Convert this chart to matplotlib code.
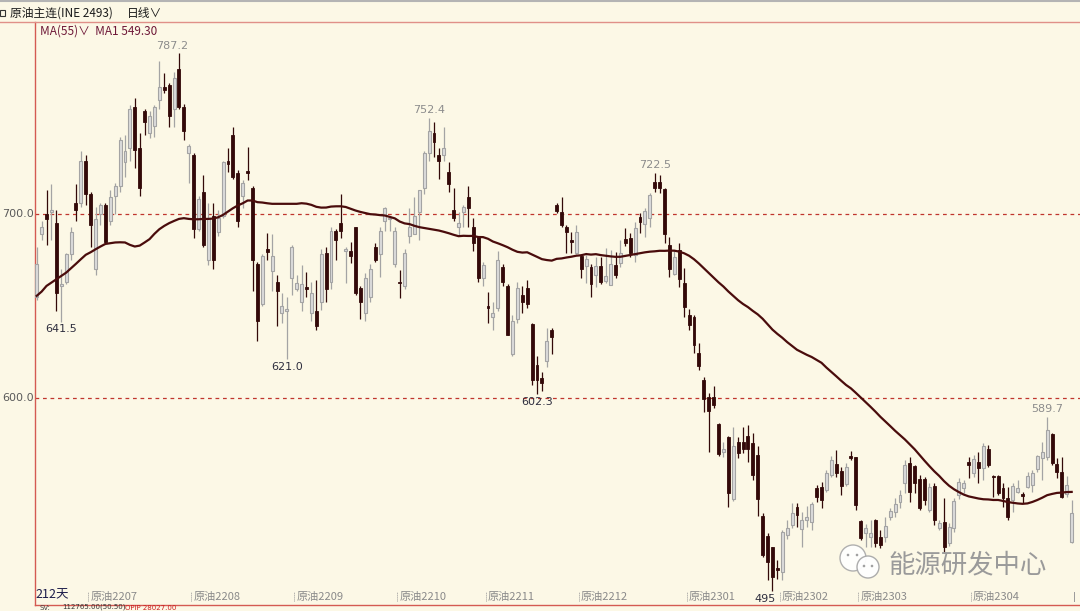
import matplotlib
matplotlib.use("Agg")
import matplotlib.pyplot as plt
from matplotlib.patches import Circle, Rectangle
import numpy as np
import pandas as pd

plt.rcParams["font.family"] = ["Noto Sans CJK SC", "DejaVu Sans"]

W, H = 1080, 611
BG = "#fcf8e6"
UP_FILL, UP_EDGE = "#dcdcdc", "#a4a4a4"
DN = "#330909"
MA_COLOR = "#4a0c0c"
RED = "#d45a52"

# 212 daily candles (INE crude oil continuous)
opens = [655, 689, 700, 701, 695, 661, 663, 678, 706, 706, 729, 711, 670, 700, 705, 696, 710, 715, 728, 736,
         758, 736, 756, 744, 748, 762, 769, 770, 757, 779, 758, 733, 732, 692, 712, 675, 699, 690, 699, 728.5,
         743, 722, 710, 723.6, 714, 673, 651, 681, 669, 663, 646, 647.5, 665, 659.2, 652, 660.2, 646, 647, 652, 679,
         663, 691, 695, 679.7, 680, 693, 660, 646, 655, 682, 678, 696, 697, 673, 663.2, 661, 688, 689, 701, 714,
         733, 744, 732, 732, 723, 702, 693.1, 701, 709, 693, 688, 665, 650, 644.2, 649, 671, 661, 624, 643, 656,
         660, 640, 618, 611, 620, 637, 704.8, 701, 692.7, 685.5, 679, 677, 671.7, 671, 666.8, 671.7, 663.7, 661.4, 672.2, 673.1,
         686.2, 686.7, 677.7, 698.1, 694.5, 697.6, 717.5, 717.5, 713.4, 683.1, 667.3, 680.4, 662.6, 645.1, 643.8, 624.6, 609.7, 600.3, 600.3, 585.8,
         570.8, 578.6, 544.9, 576.2, 576.2, 579.3, 575.3, 569, 535.9, 525, 518.9, 507.4, 505.6, 525.6, 531, 540.6, 528.6, 533.7, 532.8, 550.9,
         551.8, 550, 558.2, 564.1, 560.5, 553.3, 568.5, 567.8, 533.4, 526.5, 524.7, 533.7, 524.7, 524.7, 535.2, 538.2, 543.7, 553.6, 564.5, 563.1,
         555.8, 555.8, 539.1, 552.2, 529.2, 532.8, 521, 529.2, 547.3, 550.9, 565.4, 559.4, 565.4, 561.8, 572.1, 557.6, 557.6, 550.9, 545.5, 544.6,
         549.1, 547.8, 551.8, 552.7, 561.2, 567.2, 568.1, 580.5, 564.1, 560, 547.8, 521.9]
highs = [682, 696, 713, 716, 702, 670, 679, 693, 716, 734, 732, 712, 704, 706, 706, 713, 717, 742, 743, 759,
         763, 744, 757, 756, 759, 783, 776.5, 771, 777, 787.2, 760, 738, 733, 710, 721, 706, 706, 702, 729, 735.7,
         747, 724, 718.5, 736.6, 715, 674, 678, 689.5, 689, 667, 657, 655, 683, 666.9, 672, 668.7, 663, 664, 681, 682,
         693, 692, 711, 682, 685, 693, 661, 668, 673, 684, 693, 704, 699, 693, 669.6, 681, 703, 709, 713, 734,
         752.4, 750, 736, 747, 728, 714, 701.3, 705, 715, 698, 688, 674, 657.8, 652.4, 680, 673, 662, 645, 663, 661,
         664, 641, 623, 614, 638, 638, 705.7, 709, 694, 690.3, 694, 678, 677.7, 673, 676.8, 676.8, 681.3, 680.4, 679.5, 685.8,
         692.2, 689.8, 695.8, 700.3, 703, 711.5, 722.5, 721.1, 713.9, 687.6, 680.4, 684, 670.4, 648.1, 645.1, 629.7, 611.2, 602.5, 606.5, 586.2,
         576.2, 579.3, 584.4, 578.9, 584.4, 585.3, 580.8, 574, 537.3, 526.5, 519.2, 512, 528.3, 533.7, 542.8, 543.1, 538.2, 541.3, 543.7, 552.7,
         554.5, 560.9, 568.5, 571.8, 562.7, 564.5, 571.4, 568.1, 533.7, 531.5, 533.7, 534.1, 528.3, 535.5, 540.1, 545.5, 550, 566.3, 567.8, 563.6,
         558.2, 556.9, 553.6, 553.6, 533.7, 545.5, 531.9, 545.5, 556.4, 555.5, 568.1, 569, 570.9, 575.4, 574.5, 558.2, 558.2, 553.6, 551.8, 553.6,
         555.5, 549.1, 560, 560.9, 569, 576.3, 589.7, 580.8, 567.2, 567.8, 557.6, 544.6]
lows = [653, 686, 683, 686, 647, 641.5, 662, 675, 696, 704, 705, 682, 667, 694, 684, 694, 700, 712, 720, 729,
        725, 710, 743, 741, 742, 757, 765.6, 747, 747, 757, 740, 717, 687, 691, 682, 672, 670, 688, 698, 723,
        719, 693, 703, 718.5, 658, 631, 650, 675, 658, 639, 641, 621, 656, 658, 647, 655.1, 642, 637, 648, 652,
        659, 675, 687, 662.7, 673.2, 656, 643, 642, 652, 674, 666, 691, 691, 671, 654.2, 659, 684, 689, 686, 711,
        729, 731, 719, 729, 712, 696, 688.1, 693, 693, 680, 663, 661, 640.6, 637, 647, 661, 634, 623, 641, 646,
        649, 607, 602.3, 604, 617, 624, 700.3, 693, 678.9, 678.9, 678, 665, 662.6, 655, 660.1, 661.9, 662.3, 661.4, 665, 671,
        682.6, 676.8, 674.1, 689.4, 687.6, 693.1, 712.1, 711.2, 684.4, 665.9, 666.8, 660.5, 643.8, 636.9, 624.2, 615.2, 592.5, 570.8, 594.3, 568.4,
        568.1, 540.9, 544.2, 567.2, 569.9, 565.4, 555.4, 536, 513.8, 501.1, 495, 501.5, 501.1, 523.2, 529.2, 530.1, 519.2, 530.1, 528.3, 543.7,
        540.1, 549.1, 557.3, 557.3, 547.3, 552.2, 566.3, 539.1, 522.8, 519.2, 519.2, 518.9, 518.3, 521.9, 533.7, 535.5, 540.1, 548.2, 543.7, 548.2,
        539.1, 541.9, 538.2, 531, 528.3, 516.5, 519.6, 527.4, 544.9, 548.2, 556.4, 557.3, 553.6, 555.5, 562.7, 546.4, 547.3, 541, 533.7, 538.2,
        548.2, 542.8, 550.9, 549.1, 560, 555.5, 566.3, 563.6, 556.4, 545.5, 546.4, 521.4]
closes = [673, 693, 697, 702, 657, 662, 678, 690, 702, 729, 711, 694, 697, 705, 685, 709, 715, 740, 734, 757,
          735, 714, 750, 753, 758, 769, 767.4, 753, 774, 758, 745, 737, 692, 708, 683, 698, 675, 698, 728, 727.2,
          720, 696, 717, 722.1, 675, 642, 677, 679.2, 677, 658, 650, 648.4, 682, 662.4, 662, 659.3, 657, 639, 678, 659,
          691, 686, 691, 680.8, 677.2, 657, 652, 665, 670, 675, 691, 703, 698, 691, 662.3, 679, 693, 699, 713, 733,
          745, 739, 729, 736, 716, 698, 695.3, 704, 703, 684, 665, 672, 648.7, 646.4, 675, 663, 634, 642, 660, 652,
          651, 610, 610, 608, 631, 633, 701.8, 694, 690.3, 684.9, 690, 670, 675.3, 662, 671.7, 663.2, 666.3, 672.8, 666.8, 678.6,
          684, 678.6, 692.2, 695.8, 701.8, 710.3, 713.9, 713.9, 689.1, 669.9, 676.8, 664.4, 649.2, 639.6, 628.8, 617.3, 599.2, 593.1, 596.1, 569.5,
          572.4, 548.1, 573.9, 570.2, 572, 572, 558.1, 545, 514.7, 511.1, 502.9, 506.5, 527.4, 529.2, 537.3, 536.4, 533.7, 535.5, 542.4, 546.4,
          544.6, 559.1, 566.3, 559.4, 552.2, 562.3, 567.2, 541.9, 523.7, 529.2, 526.5, 521, 520.1, 530.4, 538.8, 542.4, 547.3, 563.6, 549.1, 553.6,
          540.1, 544.6, 551.5, 533.7, 531.9, 519.2, 530.1, 544.2, 554.5, 553.6, 563.6, 566.7, 561.8, 573.9, 563.6, 556.9, 548.2, 545.5, 535.5, 552.2,
          550.9, 546.8, 557.6, 559.1, 568.5, 570.9, 582.6, 564.5, 560, 546.4, 552.7, 537.7]

# MA(55) for the first 54 days (its window starts before the visible range)
ma_head = [655.5, 657.8, 660.9, 662.7, 664.5, 666.3, 668.1, 670.5, 672.9, 675.4, 677.8, 679.2, 680.8, 682.3,
           683.7, 684.1, 684.5, 684.6, 684.5, 683.2, 682.3, 682.8, 684.5, 686.3, 689.2, 691.7, 693.5, 695.0,
           696.2, 697.3, 697.7, 697.3, 697.1, 697.1, 697.3, 697.3, 697.5, 698.2, 699.5, 701.3, 703.1, 704.6,
           705.8, 707.3, 707.3, 706.4, 706.2, 705.8, 705.5, 705.5, 705.5, 705.5, 705.5, 705.5]

month_names = ["原油2207", "原油2208", "原油2209", "原油2210", "原油2211",
               "原油2212", "原油2301", "原油2302", "原油2303", "原油2304"]
month_start = [11, 32, 53, 74, 92, 111, 133, 152, 168, 191]

# (candle index, text, side)
extremes = [(29, "787.2", "high"), (80, "752.4", "high"), (126, "722.5", "high"), (206, "589.7", "high"),
            (5, "641.5", "low"), (51, "621.0", "low"), (102, "602.3", "low"), (150, "495", "low")]
ref_levels = [700, 600]

# ---------------------------------------------------------------------------
o, h, l, c = (np.array(v, dtype=float) for v in (opens, highs, lows, closes))
x = np.arange(len(c))
ma = pd.Series(c).rolling(55).mean().to_numpy()
ma[:len(ma_head)] = ma_head

fig = plt.figure(figsize=(W / 100, H / 100), dpi=100, facecolor=BG)
ax = fig.add_axes([35 / W, 1 - 605 / H, 1 - 35 / W, (605 - 22) / H], facecolor=BG)
ax.set_xlim(-0.35, 212.7)
ax.set_ylim(487.5, 804.3)

for lv in ref_levels:
    ax.axhline(lv, color="#c0362e", lw=0.9, ls=(0, (3, 3)), zorder=1)

up = c >= o
body_lo = np.minimum(o, c)
body_h = np.maximum(np.abs(c - o), 0.9)
ax.vlines(x[up], l[up], h[up], color=UP_EDGE, lw=0.9, zorder=2)
ax.vlines(x[~up], l[~up], h[~up], color=DN, lw=0.9, zorder=2)
ax.bar(x[up], body_h[up], 0.6, bottom=body_lo[up], color=UP_FILL, edgecolor=UP_EDGE, lw=0.8, zorder=3)
ax.bar(x[~up], body_h[~up], 0.6, bottom=body_lo[~up], color=DN, edgecolor=DN, lw=0.6, zorder=3)

ax.plot(x, ma, color=MA_COLOR, lw=1.6, zorder=4)

for idx, txt, side in extremes:
    dx = -5 if txt in ("787.2", "495") else 0
    if side == "high":
        ax.annotate(txt, (idx, h[idx]), xytext=(dx, 2), textcoords="offset points",
                    ha="center", va="bottom", fontsize=8, color="#8c8c8c", family="DejaVu Sans", zorder=5)
    else:
        ax.annotate(txt, (idx, l[idx]), xytext=(dx, -2), textcoords="offset points",
                    ha="center", va="top", fontsize=8, color="#2e2e3e", family="DejaVu Sans", zorder=5)

# month ruler at the bottom
for pos, name in zip(month_start, month_names):
    ax.plot([pos - 0.5, pos - 0.5], [489.5, 494.5], color="#9a9a9a", lw=0.7, ls=(0, (1, 1)), zorder=5)
    ax.text(pos - 0.1, 492, name, fontsize=8, color="#8a8a8a", ha="left", va="center", zorder=5)
ax.plot([211.5, 211.5], [489.5, 494.5], color="#9a9a9a", lw=0.7, zorder=5)
ax.text(-0.3, 493, "212天", fontsize=9, color="#1c1c4a", ha="left", va="center", zorder=5)

for s in ("top", "right"):
    ax.spines[s].set_visible(False)
for s in ("left", "bottom"):
    ax.spines[s].set_color(RED)
    ax.spines[s].set_linewidth(1.0)
ax.set_xticks([])
ax.set_yticks([])

# frame decorations in pixel space
deco = fig.add_axes([0, 0, 1, 1], facecolor="none", zorder=10)
deco.set_xlim(0, W)
deco.set_ylim(H, 0)
deco.axis("off")
deco.plot([0, W], [0.8, 0.8], color="#b4b4b4", lw=1.5)
deco.plot([0, W], [22, 22], color="#e09088", lw=1.0)

deco.add_patch(Rectangle((0, 10), 5, 6, fill=False, ec="#333333", lw=0.8))
deco.text(10, 13, "原油主连(INE 2493)", fontsize=8.5, color="#1a1a1a", ha="left", va="center")
deco.text(127, 13, "日线∨", fontsize=8.5, color="#1a1a1a", ha="left", va="center")
deco.text(40, 31, "MA(55)∨  MA1 549.30", fontsize=8.5, color="#6e1838", ha="left", va="center")

for lv in ref_levels:
    py = 214 + (700 - lv) * 1.84
    deco.text(2, py, f"{lv:.1f}", fontsize=8, color="#5a5a5a", ha="left", va="center", family="DejaVu Sans")

# watermark
deco.add_patch(Circle((853, 558), 13, fc="white", ec="#a8a8a8", lw=1.0, alpha=0.9))
deco.add_patch(Circle((868, 567), 11, fc="white", ec="#a8a8a8", lw=1.0, alpha=0.95))
for px, py in ((848, 555), (857, 555), (864, 566), (872, 566)):
    deco.add_patch(Circle((px, py), 1.3, fc="#a0a0a0", ec="none"))
deco.text(888, 565, "能源研发中心", fontsize=19, color="#9a9a9a", ha="left", va="center")

# status line under the chart (mostly hidden in the original)
deco.text(40, 610.5, "SV:", fontsize=5, color="#444444", ha="left", va="bottom", family="DejaVu Sans")
deco.text(62, 610.5, "112765.00(50.50)", fontsize=5, color="#333333", ha="left", va="bottom", family="DejaVu Sans")
deco.text(125, 610.5, "OPIP 28027.00", fontsize=5, color="#cc2020", ha="left", va="bottom", family="DejaVu Sans")

fig.savefig("out.png", dpi=100, facecolor=BG)
